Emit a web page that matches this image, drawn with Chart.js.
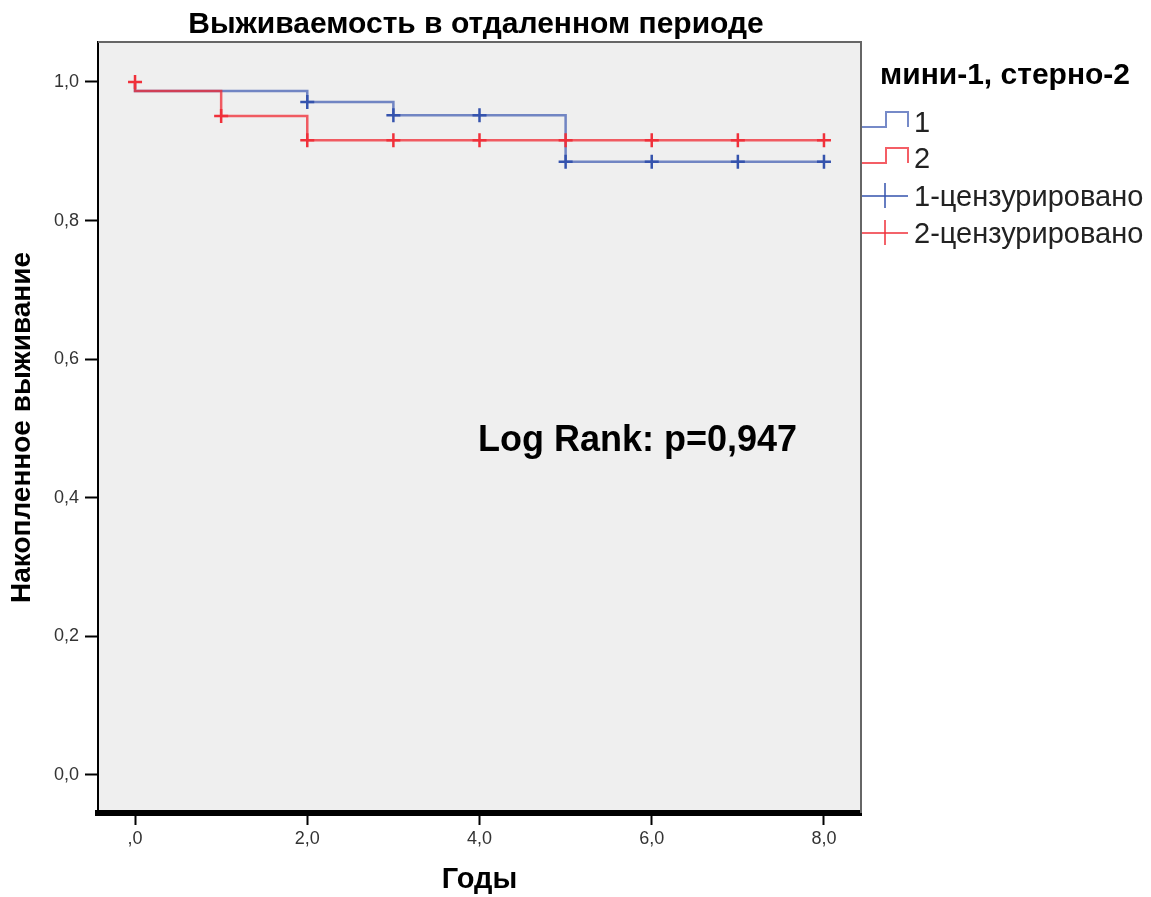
<!DOCTYPE html>
<html lang="ru">
<head>
  <meta charset="UTF-8">
  <title>Выживаемость в отдаленном периоде</title>
  <script src="https://cdn.jsdelivr.net/npm/chart.js"></script>
  <style>
    body { margin: 0; background: #fff; }
    canvas { display: block; }
  </style>
</head>
<body>
  <canvas id="km" width="1151" height="897"></canvas>

  <script>
    // Данные кривых Каплана-Мейера (годы / накопленное выживание)
    const group1Times = [0, 0, 2, 3, 5, 8];
    const group1Surv = [1.0, 0.987, 0.971, 0.952, 0.885, 0.885];
    const group2Times = [0, 0, 1, 2, 8];
    const group2Surv = [1.0, 0.987, 0.951, 0.916, 0.916];

    // цензурированные наблюдения
    const cens1Times = [2, 3, 4, 5, 6, 7, 8];
    const cens1Surv = [0.971, 0.952, 0.952, 0.885, 0.885, 0.885, 0.885];
    const cens2Times = [0, 1, 2, 3, 4, 5, 6, 7, 8];
    const cens2Surv = [1.0, 0.951, 0.916, 0.916, 0.916, 0.916, 0.916, 0.916, 0.916];

    const xTicks = [0, 2, 4, 6, 8];
    const xTickLabels = [',0', '2,0', '4,0', '6,0', '8,0'];
    const yTicks = [0, 0.2, 0.4, 0.6, 0.8, 1.0];
    const yTickLabels = ['0,0', '0,2', '0,4', '0,6', '0,8', '1,0'];

    const legendTitle = 'мини-1, стерно-2';
    const legendLabels = ['1', '2', '1-цензурировано', '2-цензурировано'];

    const FONT = '"Liberation Sans", Arial, sans-serif';
    const BLUE_LINE = 'rgba(45, 75, 170, 0.65)';
    const RED_LINE = 'rgba(240, 40, 50, 0.75)';
    const BLUE_MARK = '#3553ad';
    const RED_MARK = '#f0303a';

    const pts = (xs, ys) => xs.map((x, i) => ({ x: x, y: ys[i] }));

    // фон области графика, рамка, заголовок, легенда, подпись
    const decor = {
      id: 'decor',
      beforeDraw(chart) {
        const { ctx, chartArea: a } = chart;
        ctx.save();
        ctx.fillStyle = '#efefef';
        ctx.fillRect(a.left, a.top, a.right - a.left, a.bottom - a.top);
        ctx.restore();
      },
      afterDraw(chart) {
        const { ctx, chartArea: a } = chart;
        ctx.save();
        ctx.strokeStyle = '#666';
        ctx.lineWidth = 2;
        ctx.beginPath();
        ctx.moveTo(a.left, a.top);
        ctx.lineTo(a.right, a.top);
        ctx.lineTo(a.right, a.bottom);
        ctx.stroke();

        ctx.fillStyle = '#000';
        ctx.textBaseline = 'middle';
        ctx.textAlign = 'center';
        ctx.font = 'bold 30px ' + FONT;
        ctx.fillText('Выживаемость в отдаленном периоде', 476, 25);

        ctx.textAlign = 'left';
        ctx.font = 'bold 36px ' + FONT;
        ctx.fillText('Log Rank: p=0,947', 478, 441);

        // легенда
        ctx.font = 'bold 30px ' + FONT;
        ctx.fillText(legendTitle, 880, 76);
        ctx.font = '29px ' + FONT;
        ctx.fillStyle = '#222';
        const rows = [124, 160, 198, 235];
        legendLabels.forEach((t, i) => ctx.fillText(t, 914, rows[i]));

        ctx.lineWidth = 2;
        [BLUE_LINE, RED_LINE].forEach((c, i) => {
          const b = rows[i] + 3, t = rows[i] - 12;
          ctx.strokeStyle = c;
          ctx.beginPath();
          ctx.moveTo(862, b); ctx.lineTo(886, b); ctx.lineTo(886, t);
          ctx.lineTo(908, t); ctx.lineTo(908, b);
          ctx.stroke();
        });
        ctx.lineWidth = 1.5;
        [BLUE_MARK, RED_MARK].forEach((c, i) => {
          const y = rows[i + 2] - 2;
          ctx.strokeStyle = c;
          ctx.beginPath();
          ctx.moveTo(862, y); ctx.lineTo(908, y);
          ctx.moveTo(885, y - 13); ctx.lineTo(885, y + 12);
          ctx.stroke();
        });
        ctx.restore();
      }
    };

    new Chart(document.getElementById('km'), {
      type: 'scatter',
      data: {
        datasets: [
          {
            label: '1',
            type: 'line',
            data: pts(group1Times, group1Surv),
            stepped: 'before',
            borderColor: BLUE_LINE,
            borderWidth: 2.5,
            pointRadius: 0,
            fill: false,
            order: 4
          },
          {
            label: '1-цензурировано',
            data: pts(cens1Times, cens1Surv),
            pointStyle: 'cross',
            pointRadius: 7,
            borderWidth: 2.5,
            borderColor: BLUE_MARK,
            order: 3
          },
          {
            label: '2',
            type: 'line',
            data: pts(group2Times, group2Surv),
            stepped: 'before',
            borderColor: RED_LINE,
            borderWidth: 2.5,
            pointRadius: 0,
            fill: false,
            order: 2
          },
          {
            label: '2-цензурировано',
            data: pts(cens2Times, cens2Surv),
            pointStyle: 'cross',
            pointRadius: 7,
            borderWidth: 2.5,
            borderColor: RED_MARK,
            order: 1
          }
        ]
      },
      options: {
        responsive: false,
        animation: false,
        layout: { padding: { top: 42, right: 290, left: 0, bottom: 0 } },
        plugins: {
          legend: { display: false },
          tooltip: { enabled: false }
        },
        scales: {
          x: {
            type: 'linear',
            min: -0.43,
            max: 8.43,
            afterFit: s => { s.height = 84; },
            afterBuildTicks: s => { s.ticks = xTicks.map(v => ({ value: v })); },
            ticks: {
              callback: (v) => xTickLabels[xTicks.indexOf(v)],
              font: { family: FONT, size: 18 },
              color: '#333',
              padding: 3,
              maxRotation: 0
            },
            grid: { drawOnChartArea: false, drawTicks: true, tickLength: 12, tickWidth: 2, tickColor: '#000' },
            border: { display: true, color: '#000', width: 6 },
            title: {
              display: true,
              text: 'Годы',
              font: { family: FONT, size: 29, weight: 'bold' },
              color: '#000',
              padding: { top: 0, bottom: 0 }
            }
          },
          y: {
            type: 'linear',
            min: -0.055,
            max: 1.0577,
            afterFit: s => { s.width = 98; },
            afterBuildTicks: s => { s.ticks = yTicks.map(v => ({ value: v })); },
            ticks: {
              callback: (v) => yTickLabels[yTicks.indexOf(v)],
              font: { family: FONT, size: 18 },
              color: '#333',
              padding: 6
            },
            grid: { drawOnChartArea: false, drawTicks: true, tickLength: 13, tickWidth: 2, tickColor: '#000' },
            border: { display: true, color: '#000', width: 2 },
            title: {
              display: true,
              text: 'Накопленное выживание',
              font: { family: FONT, size: 28, weight: 'bold' },
              color: '#000',
              padding: { top: 5, bottom: 0 }
            }
          }
        }
      },
      plugins: [decor]
    });
  </script>
</body>
</html>
